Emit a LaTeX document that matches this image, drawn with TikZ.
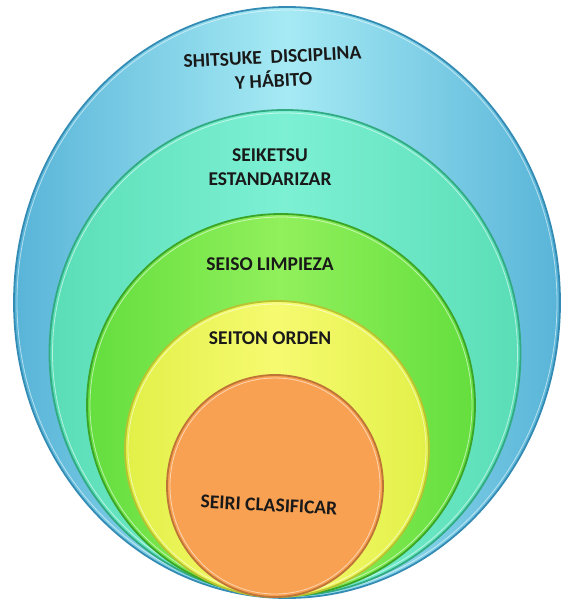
\documentclass[tikz,border=0pt]{standalone}
\usepackage{fontspec}
\setmainfont{Carlito}
\usetikzlibrary{shapes.geometric}
\definecolor{blueedge}{RGB}{52,140,180}
\definecolor{blueside}{RGB}{88,180,216}
\definecolor{bluemid}{RGB}{166,234,244}
\definecolor{tealedge}{RGB}{50,170,130}
\definecolor{tealside}{RGB}{90,222,182}
\definecolor{tealmid}{RGB}{125,240,212}
\definecolor{greenedge}{RGB}{60,165,40}
\definecolor{greenside}{RGB}{100,222,62}
\definecolor{greenmid}{RGB}{145,240,92}
\definecolor{yellowedge}{RGB}{185,195,50}
\definecolor{yellowside}{RGB}{226,240,72}
\definecolor{yellowmid}{RGB}{246,250,112}
\definecolor{orangeedge}{RGB}{190,115,55}
\definecolor{orangefill}{RGB}{249,161,82}
\begin{document}
\begin{tikzpicture}[x=1pt,y=-1pt,
  ring/.style={ellipse, inner sep=0pt, line width=1.8pt},
  shine/.style={white, opacity=0.55, line width=0.8pt},
  lbl/.style={font=\bfseries\fontsize{19.5}{24}\selectfont, text=black!90, align=center, inner sep=0pt}]
\useasboundingbox (0,0) rectangle (568,602);
\fill[white] (0,0) rectangle (568,602);
\node[ring, minimum width=546pt, minimum height=591pt, draw=blueedge,
  left color=blueside, right color=blueside, middle color=bluemid] (shitsuke) at (287,302.5) {};
\draw[shine] (shitsuke.center) ellipse [x radius=270, y radius=292.5];
\node[ring, minimum width=471pt, minimum height=486pt, draw=tealedge,
  left color=tealside, right color=tealside, middle color=tealmid] (seiketsu) at (285,353) {};
\draw[shine] (seiketsu.center) ellipse [x radius=232.5, y radius=240];
\node[ring, minimum width=388pt, minimum height=382pt, draw=greenedge,
  left color=greenside, right color=greenside, middle color=greenmid] (seiso) at (281,405) {};
\draw[shine] (seiso.center) ellipse [x radius=191, y radius=188];
\node[ring, minimum width=304pt, minimum height=296pt, draw=yellowedge,
  left color=yellowside, right color=yellowside, middle color=yellowmid] (seiton) at (277,449) {};
\draw[shine] (seiton.center) ellipse [x radius=149, y radius=145];
\node[ring, minimum width=216pt, minimum height=222pt, draw=orangeedge,
  fill=orangefill] (seiri) at (275,486) {};
\draw[shine] (seiri.center) ellipse [x radius=105, y radius=108];
\node[lbl, rotate=3] (t1) at (273,69) {SHITSUKE\ \ DISCIPLINA\\Y HÁBITO};
\node[lbl] (t2) at (270,167) {SEIKETSU\\ESTANDARIZAR};
\node[lbl] (t3) at (270,264) {SEISO LIMPIEZA};
\node[lbl] (t4) at (270,338) {SEITON ORDEN};
\node[lbl, rotate=-3] (t5) at (269,505) {SEIRI CLASIFICAR};
\end{tikzpicture}
\end{document}
